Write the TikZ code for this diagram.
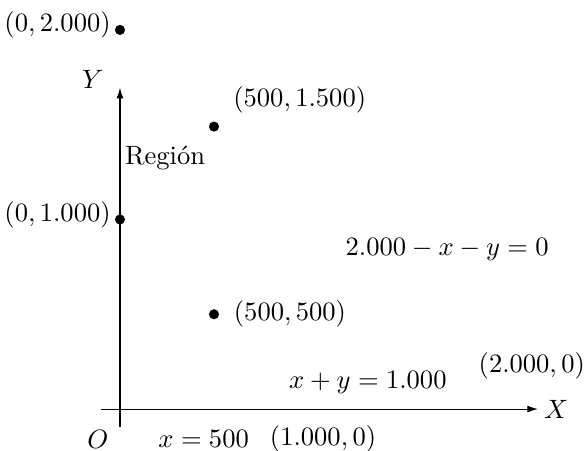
\documentclass[tikz,border=0pt]{standalone}
\usetikzlibrary{arrows.meta,positioning}
\tikzset{
  dot/.style={circle,fill,inner sep=0pt,minimum size=3.8pt},
  axis/.style={-{Latex[length=4pt,width=2.6pt]}}
}
\begin{document}
\begin{tikzpicture}[x=2.49cm,y=2.51cm]
        \useasboundingbox (-0.638,-0.221) rectangle (2.473,2.158);
        % axes
        \coordinate (xs) at (-0.101,0);
        \coordinate (xe) at (2.223,0);
        \coordinate (ys) at (0,-0.095);
        \coordinate (ye) at (0,1.695);
        \draw[axis] (xs)--(xe);
        \draw[axis] (ys)--(ye);
        \node (xlab) at (2.319,0) {$X$};
        \node (ylab) at (-0.144,1.737) {$Y$};
        \node (olab) at (-0.117,-0.158) {$O$};
        % vertices
        \foreach \n/\x/\y/\lx/\ly/\lab in {
          a/0/2/-0.332/2.026/{(0,2.000)},
          b/0/1/-0.332/1.026/{(0,1.000)},
          c/0.5/1.49/0.956/1.632/{(500,1.500)},
          d/0.5/0.5/0.904/0.5/{(500,500)}}
          {
            \node[dot] (\n) at (\x,\y) {};
            \node (\n lab) at (\lx,\ly) {$\lab$};
          }
        % texts
        \node (region) at (0.24,1.326) {Región};
        \node (eqa) at (1.74,0.842) {$2.000-x-y=0$};
        \node (eqb) at (1.318,0.142) {$x+y=1.000$};
        \node (pt2) at (2.19,0.226) {$(2.000,0)$};
        \node (xv) at (0.445,-0.158) {$x=500$};
        \node (pt1) at (1.08,-0.158) {$(1.000,0)$};
      \end{tikzpicture}
\end{document}
